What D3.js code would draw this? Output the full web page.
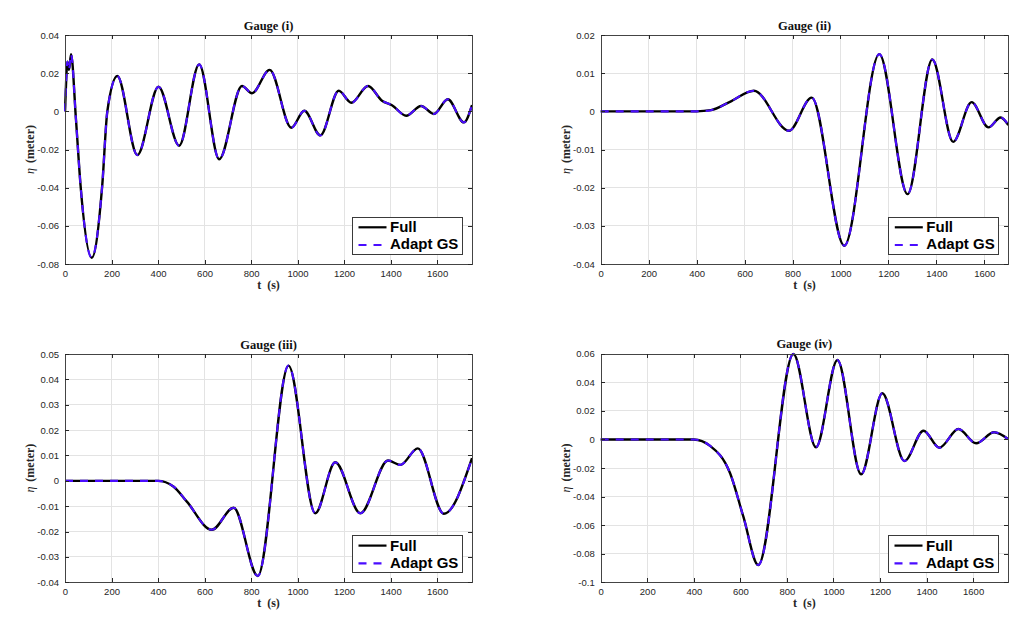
<!DOCTYPE html>
<html>
<head>
<meta charset="utf-8">
<script src="https://cdn.jsdelivr.net/npm/d3@7/dist/d3.min.js"></script>
<style>
  html, body { margin: 0; padding: 0; background: #ffffff; }
  svg { display: block; }
</style>
</head>
<body>
<svg id="chart" width="1029" height="618"></svg>
<script>
// ---------------- DATA ----------------
const titles = ["Gauge (i)", "Gauge (ii)", "Gauge (iii)", "Gauge (iv)"];
const seriesNames = ["Full", "Adapt GS"];

// Gauge (i)
const tGauge1   = [0, 5, 10, 17, 26, 47, 67, 115, 160, 182, 225, 311, 402, 491, 577, 663, 761, 804, 880, 973, 1029, 1098, 1177, 1231, 1303, 1363, 1406, 1467, 1531, 1586, 1646, 1715, 1750];
const fullGauge1 = [0, 0.016, 0.026, 0.0217, 0.0299, -0.004, -0.039, -0.0767, -0.039, 0, 0.0185, -0.0229, 0.0129, -0.018, 0.0246, -0.0251, 0.0133, 0.0095, 0.0217, -0.0086, 0.0003, -0.0126, 0.0108, 0.0045, 0.0133, 0.0056, 0.0032, -0.0023, 0.0028, -0.0014, 0.0063, -0.0058, 0.0033];
const adaptGauge1 = [0, 0.016, 0.026, 0.0217, 0.0299, -0.004, -0.039, -0.0767, -0.039, 0, 0.0185, -0.0229, 0.0129, -0.018, 0.0246, -0.0251, 0.0133, 0.0095, 0.0217, -0.0086, 0.0003, -0.0126, 0.0108, 0.0045, 0.0133, 0.0056, 0.0032, -0.0023, 0.0028, -0.0014, 0.0063, -0.0058, 0.0033];

// Gauge (ii)
const tGauge2   = [0, 200, 400, 460, 539, 639, 785, 880, 1016, 1162, 1280, 1383, 1470, 1547, 1617, 1668, 1700];
const fullGauge2 = [0, 0, 0, 0.0003, 0.0025, 0.0054, -0.0051, 0.0036, -0.0352, 0.015, -0.0217, 0.0136, -0.008, 0.0024, -0.0042, -0.0016, -0.0036];
const adaptGauge2 = [0, 0, 0, 0.0003, 0.0025, 0.0054, -0.0051, 0.0036, -0.0352, 0.015, -0.0217, 0.0136, -0.008, 0.0024, -0.0042, -0.0016, -0.0036];

// Gauge (iii)
const tGauge3   = [0, 200, 400, 466, 524, 631, 725, 829, 961, 1076, 1162, 1270, 1389, 1442, 1517, 1629, 1750];
const fullGauge3 = [0, 0, 0, -0.0022, -0.0082, -0.0193, -0.0106, -0.0375, 0.0454, -0.0128, 0.0073, -0.0128, 0.008, 0.0063, 0.0128, -0.013, 0.0089];
const adaptGauge3 = [0, 0, 0, -0.0022, -0.0082, -0.0193, -0.0106, -0.0375, 0.0454, -0.0128, 0.0073, -0.0128, 0.008, 0.0063, 0.0128, -0.013, 0.0089];

// Gauge (iv)
const tGauge4   = [0, 200, 400, 470, 556, 613, 677, 828, 925, 1017, 1119, 1210, 1305, 1387, 1455, 1537, 1613, 1690, 1750];
const fullGauge4 = [0, 0, 0, -0.0045, -0.0237, -0.0541, -0.0879, 0.0598, -0.0055, 0.0556, -0.0244, 0.0323, -0.0151, 0.0061, -0.0058, 0.0073, -0.0027, 0.005, 0.0003];
const adaptGauge4 = [0, 0, 0, -0.0045, -0.0237, -0.0541, -0.0879, 0.0598, -0.0055, 0.0556, -0.0244, 0.0323, -0.0151, 0.0061, -0.0058, 0.0073, -0.0027, 0.005, 0.0003];

// Axis domains and tick labels
const xDomains = [[0, 1750], [0, 1700], [0, 1750], [0, 1750]];
const yDomains = [[-0.08, 0.04], [-0.04, 0.02], [-0.04, 0.05], [-0.1, 0.06]];
const xTicks = [0, 200, 400, 600, 800, 1000, 1200, 1400, 1600];
const yTicks1 = [-0.08, -0.06, -0.04, -0.02, 0, 0.02, 0.04];
const yTicks2 = [-0.04, -0.03, -0.02, -0.01, 0, 0.01, 0.02];
const yTicks3 = [-0.04, -0.03, -0.02, -0.01, 0, 0.01, 0.02, 0.03, 0.04, 0.05];
const yTicks4 = [-0.1, -0.08, -0.06, -0.04, -0.02, 0, 0.02, 0.04, 0.06];
const xLabel = "t (s)";
const yLabelRest = " (meter)";

// ---------------- LAYOUT ----------------
const panels = [
  { left: 65,    top: 35,    w: 407,   h: 229,   t: tGauge1, full: fullGauge1, adapt: adaptGauge1, yTicks: yTicks1 },
  { left: 600.7, top: 35,    w: 407.6, h: 229,   t: tGauge2, full: fullGauge2, adapt: adaptGauge2, yTicks: yTicks2 },
  { left: 65,    top: 354,   w: 407,   h: 228.3, t: tGauge3, full: fullGauge3, adapt: adaptGauge3, yTicks: yTicks3 },
  { left: 600.7, top: 353.7, w: 407.3, h: 228.6, t: tGauge4, full: fullGauge4, adapt: adaptGauge4, yTicks: yTicks4 }
];

const svg = d3.select("#chart");
svg.append("rect").attr("width", 1029).attr("height", 618).attr("fill", "#ffffff");

const axisColor = "#262626";
const gridColor = "#e3e3e3";
const blue = "#4a0cff";
const tickFont = "'Liberation Sans', Arial, Helvetica, sans-serif";
const serifFont = "'Liberation Serif', 'DejaVu Serif', serif";

function fmt(v) {
  if (Math.abs(v) < 1e-12) return "0";
  return String(+v.toFixed(4));
}

panels.forEach((p, i) => {
  const g = svg.append("g").attr("transform", `translate(${p.left},${p.top})`);
  const x = d3.scaleLinear().domain(xDomains[i]).range([0, p.w]);
  const y = d3.scaleLinear().domain(yDomains[i]).range([p.h, 0]);

  g.append("rect").attr("width", p.w).attr("height", p.h).attr("fill", "#ffffff");

  // grid
  const gx = xTicks.filter(v => v > xDomains[i][0] && v < xDomains[i][1]);
  g.append("g").selectAll("line").data(gx).join("line")
    .attr("x1", d => x(d)).attr("x2", d => x(d)).attr("y1", 0).attr("y2", p.h)
    .attr("stroke", gridColor).attr("stroke-width", 1).attr("shape-rendering", "crispEdges");
  const gy = p.yTicks.filter(v => v > yDomains[i][0] + 1e-9 && v < yDomains[i][1] - 1e-9);
  g.append("g").selectAll("line").data(gy).join("line")
    .attr("y1", d => y(d)).attr("y2", d => y(d)).attr("x1", 0).attr("x2", p.w)
    .attr("stroke", gridColor).attr("stroke-width", 1).attr("shape-rendering", "crispEdges");

  // curves
  const pts = (vals) => p.t.map((tv, k) => [tv, vals[k]]);
  const line = d3.line().x(d => x(d[0])).y(d => y(d[1])).curve(d3.curveMonotoneX);
  const clipId = "clip" + i;
  g.append("clipPath").attr("id", clipId).append("rect")
    .attr("x", -1).attr("y", -2).attr("width", p.w + 2).attr("height", p.h + 4);
  const cg = g.append("g").attr("clip-path", `url(#${clipId})`);
  cg.append("path").attr("d", line(pts(p.full)))
    .attr("fill", "none").attr("stroke", "#000000").attr("stroke-width", 2.4)
    .attr("stroke-linejoin", "round");
  cg.append("path").attr("d", line(pts(p.adapt)))
    .attr("fill", "none").attr("stroke", blue).attr("stroke-width", 2.1)
    .attr("stroke-dasharray", "8,7");

  // axes (MATLAB-style: ticks inward on all sides)
  const xAxisB = d3.axisBottom(x).tickValues(xTicks.filter(v => v <= xDomains[i][1])).tickSize(-4).tickPadding(6).tickFormat(d3.format("d"));
  const xAxisT = d3.axisTop(x).tickValues(xTicks.filter(v => v <= xDomains[i][1])).tickSize(-4).tickFormat("");
  const yAxisL = d3.axisLeft(y).tickValues(p.yTicks).tickSize(-4).tickPadding(6).tickFormat(fmt);
  const yAxisR = d3.axisRight(y).tickValues(p.yTicks).tickSize(-4).tickFormat("");

  const styleAxis = sel => {
    sel.selectAll("path").attr("stroke", axisColor).attr("stroke-width", 1).attr("shape-rendering", "crispEdges");
    sel.selectAll("line").attr("stroke", axisColor).attr("stroke-width", 1).attr("shape-rendering", "crispEdges");
    sel.selectAll("text").attr("fill", axisColor).style("font-family", tickFont).style("font-size", "9.5px");
  };
  g.append("g").attr("transform", `translate(0,${p.h})`).call(xAxisB).call(styleAxis);
  g.append("g").call(xAxisT).call(styleAxis);
  g.append("g").call(yAxisL).call(styleAxis);
  g.append("g").attr("transform", `translate(${p.w},0)`).call(yAxisR).call(styleAxis);
  g.selectAll(".domain").attr("stroke", "#444");

  // title
  g.append("text").attr("x", p.w / 2).attr("y", -5.5).attr("text-anchor", "middle")
    .style("font-family", serifFont).style("font-size", "12.5px").style("font-weight", "bold")
    .attr("fill", "#111").text(titles[i]);

  // x label
  g.append("text").attr("x", p.w / 2).attr("y", p.h + 25).attr("text-anchor", "middle")
    .style("font-family", serifFont).style("font-size", "12px").style("font-weight", "bold")
    .style("word-spacing", "3px")
    .attr("fill", axisColor).text(xLabel);

  // y label
  const yl = g.append("text")
    .attr("transform", `translate(-31,${p.h / 2}) rotate(-90)`)
    .attr("text-anchor", "middle")
    .style("font-family", serifFont).style("font-size", "12px").style("font-weight", "bold")
    .attr("fill", axisColor);
  yl.append("tspan").style("font-style", "italic").style("font-weight", "normal").text("η");
  yl.append("tspan").style("word-spacing", "2px").text(yLabelRest);

  // legend
  const lw = 110, lh = 37;
  const lg = g.append("g").attr("transform", `translate(${p.w - 9.5 - lw},${p.h - 9.7 - lh})`);
  lg.append("rect").attr("width", lw).attr("height", lh).attr("fill", "#ffffff")
    .attr("stroke", "#3a3a3a").attr("stroke-width", 1).attr("shape-rendering", "crispEdges");
  lg.append("line").attr("x1", 6).attr("x2", 34).attr("y1", 10).attr("y2", 10)
    .attr("stroke", "#000").attr("stroke-width", 2.2);
  lg.append("line").attr("x1", 6).attr("x2", 34).attr("y1", 27.7).attr("y2", 27.7)
    .attr("stroke", blue).attr("stroke-width", 2.2).attr("stroke-dasharray", "8,7");
  lg.append("text").attr("x", 37.5).attr("y", 15.2).text(seriesNames[0])
    .style("font-family", tickFont).style("font-size", "15px").style("font-weight", "bold").attr("fill", "#000");
  lg.append("text").attr("x", 37.5).attr("y", 32.2).text(seriesNames[1])
    .style("font-family", tickFont).style("font-size", "15px").style("font-weight", "bold").attr("fill", "#000");
});
</script>
</body>
</html>
